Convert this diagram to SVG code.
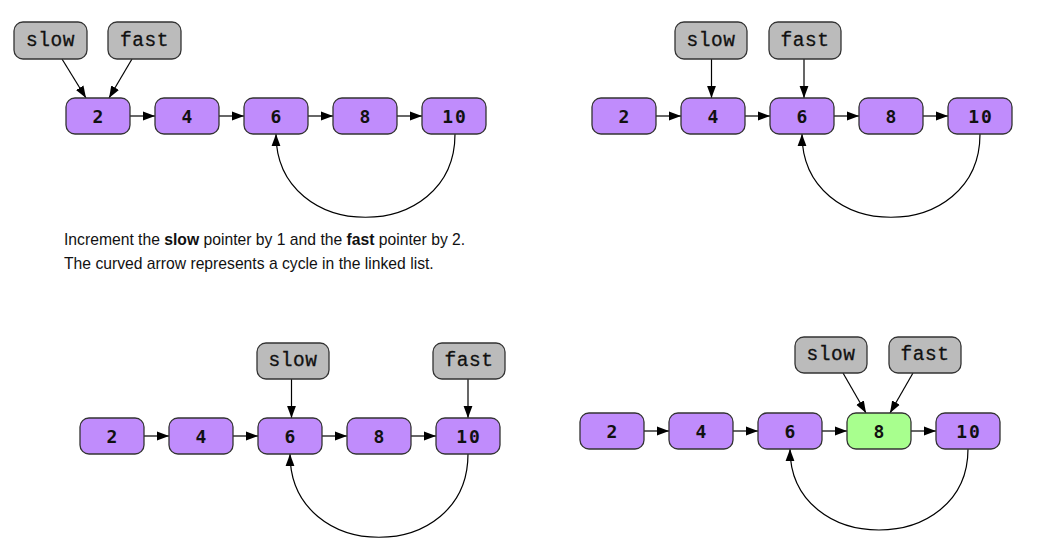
<svg xmlns="http://www.w3.org/2000/svg" width="1050" height="546" viewBox="0 0 1050 546">
<defs>
<marker id="ah" viewBox="0 0 12 10" refX="12" refY="5" markerWidth="12" markerHeight="10" markerUnits="userSpaceOnUse" orient="auto">
<path d="M0,0.6 L12,5 L0,9.4 Z" fill="#000"/>
</marker>
<style>
.n rect{fill:#c08cfc;stroke:#333;stroke-width:1.3}
.g rect{fill:#a8ff8e;stroke:#333;stroke-width:1.3}
.p rect{fill:#bbbbbb;stroke:#333;stroke-width:1.3}
.n text,.g text{font-family:"DejaVu Sans Mono","Liberation Mono",monospace;font-weight:bold;font-size:18px;letter-spacing:2px;text-anchor:middle;dominant-baseline:central;fill:#111}
.p text{font-family:"Liberation Mono","DejaVu Sans Mono",monospace;font-size:19.5px;letter-spacing:0.5px;text-anchor:middle;dominant-baseline:central;fill:#111;stroke:#111;stroke-width:0.3}
.e path{fill:none;stroke:#000;stroke-width:1.2;marker-end:url(#ah)}
.cap{font-family:"Liberation Sans",Arial,sans-serif;font-size:15.7px;fill:#111}
</style>
</defs>

<g id="edges" class="e">
<!-- panel 1 -->
<path d="M130,116 L155,116"/>
<path d="M219,116 L244,116"/>
<path d="M308,116 L333,116"/>
<path d="M397,116 L422,116"/>
<path d="M62,59 L86,98"/>
<path d="M132,59 L109,98"/>
<path d="M455,134 C455,245 276,245 276,134"/>
<!-- panel 2 -->
<path d="M656,116 L681,116"/>
<path d="M745,116 L770,116"/>
<path d="M834,116 L859,116"/>
<path d="M923,116 L948,116"/>
<path d="M711.5,59 L711.5,98"/>
<path d="M804,59 L804,98"/>
<path d="M980,134 C980,245 802,245 802,134"/>
<!-- panel 3 -->
<path d="M144,436 L169,436"/>
<path d="M233,436 L258,436"/>
<path d="M322,436 L347,436"/>
<path d="M411,436 L436,436"/>
<path d="M291.5,379 L291.5,418"/>
<path d="M468,379 L468,418"/>
<path d="M468,454 C468,565 290,565 290,454"/>
<!-- panel 4 -->
<path d="M644,431 L669,431"/>
<path d="M733,431 L758,431"/>
<path d="M822,431 L847,431"/>
<path d="M911,431 L936,431"/>
<path d="M843,373 L866,413"/>
<path d="M913,373 L890,413"/>
<path d="M968,449 C968,557 790,557 790,449"/>
</g>

<!-- panel 1 -->
<g id="p1_slow" class="p"><rect x="14" y="22" width="73" height="37" rx="9"/><text x="50.5" y="40.5">slow</text></g>
<g id="p1_fast" class="p"><rect x="108" y="22" width="73" height="37" rx="9"/><text x="144.5" y="40.5">fast</text></g>
<g id="p1_n2" class="n"><rect x="66" y="98" width="64" height="36" rx="9"/><text x="99" y="116">2</text></g>
<g id="p1_n4" class="n"><rect x="155" y="98" width="64" height="36" rx="9"/><text x="188" y="116">4</text></g>
<g id="p1_n6" class="n"><rect x="244" y="98" width="64" height="36" rx="9"/><text x="277" y="116">6</text></g>
<g id="p1_n8" class="n"><rect x="333" y="98" width="64" height="36" rx="9"/><text x="366" y="116">8</text></g>
<g id="p1_n10" class="n"><rect x="422" y="98" width="64" height="36" rx="9"/><text x="455" y="116">10</text></g>

<!-- panel 2 -->
<g id="p2_slow" class="p"><rect x="675" y="22" width="72" height="37" rx="9"/><text x="711" y="40.5">slow</text></g>
<g id="p2_fast" class="p"><rect x="769" y="22" width="72" height="37" rx="9"/><text x="805" y="40.5">fast</text></g>
<g id="p2_n2" class="n"><rect x="592" y="98" width="64" height="36" rx="9"/><text x="625" y="116">2</text></g>
<g id="p2_n4" class="n"><rect x="681" y="98" width="64" height="36" rx="9"/><text x="714" y="116">4</text></g>
<g id="p2_n6" class="n"><rect x="770" y="98" width="64" height="36" rx="9"/><text x="803" y="116">6</text></g>
<g id="p2_n8" class="n"><rect x="859" y="98" width="64" height="36" rx="9"/><text x="892" y="116">8</text></g>
<g id="p2_n10" class="n"><rect x="948" y="98" width="64" height="36" rx="9"/><text x="981" y="116">10</text></g>

<!-- caption -->
<g id="caption">
<text class="cap" x="64" y="245">Increment the <tspan font-weight="bold">slow</tspan> pointer by 1 and the <tspan font-weight="bold">fast</tspan> pointer by 2.</text>
<text class="cap" x="64" y="269">The curved arrow represents a cycle in the linked list.</text>
</g>

<!-- panel 3 -->
<g id="p3_slow" class="p"><rect x="257" y="343" width="72" height="36" rx="9"/><text x="293" y="361">slow</text></g>
<g id="p3_fast" class="p"><rect x="433" y="343" width="72" height="36" rx="9"/><text x="469" y="361">fast</text></g>
<g id="p3_n2" class="n"><rect x="80" y="418" width="64" height="36" rx="9"/><text x="113" y="436">2</text></g>
<g id="p3_n4" class="n"><rect x="169" y="418" width="64" height="36" rx="9"/><text x="202" y="436">4</text></g>
<g id="p3_n6" class="n"><rect x="258" y="418" width="64" height="36" rx="9"/><text x="291" y="436">6</text></g>
<g id="p3_n8" class="n"><rect x="347" y="418" width="64" height="36" rx="9"/><text x="380" y="436">8</text></g>
<g id="p3_n10" class="n"><rect x="436" y="418" width="64" height="36" rx="9"/><text x="469" y="436">10</text></g>

<!-- panel 4 -->
<g id="p4_slow" class="p"><rect x="795" y="337" width="72" height="36" rx="9"/><text x="831" y="355">slow</text></g>
<g id="p4_fast" class="p"><rect x="889" y="337" width="72" height="36" rx="9"/><text x="925" y="355">fast</text></g>
<g id="p4_n2" class="n"><rect x="580" y="413" width="64" height="36" rx="9"/><text x="613" y="431">2</text></g>
<g id="p4_n4" class="n"><rect x="669" y="413" width="64" height="36" rx="9"/><text x="702" y="431">4</text></g>
<g id="p4_n6" class="n"><rect x="758" y="413" width="64" height="36" rx="9"/><text x="791" y="431">6</text></g>
<g id="p4_n8" class="g"><rect x="847" y="413" width="64" height="36" rx="9"/><text x="880" y="431">8</text></g>
<g id="p4_n10" class="n"><rect x="936" y="413" width="64" height="36" rx="9"/><text x="969" y="431">10</text></g>
</svg>
